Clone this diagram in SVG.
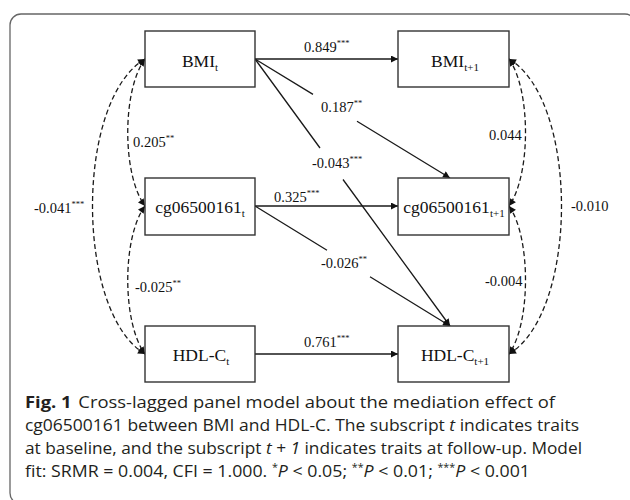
<svg xmlns="http://www.w3.org/2000/svg" width="630" height="500" viewBox="0 0 630 500">
<style>
.box{fill:#fff;stroke:#333;stroke-width:1.4}
.nt{font-family:"Liberation Serif",serif;font-size:17.5px;fill:#111;text-anchor:middle}
.sub{font-size:11px}
.lb{font-family:"Liberation Serif",serif;font-size:14.5px;fill:#111}
.sup{font-size:8.5px}
.ar{fill:none;stroke:#1a1a1a;stroke-width:1.3;marker-end:url(#ah)}
.da{fill:none;stroke:#1a1a1a;stroke-width:1.3;stroke-dasharray:5 3;marker-start:url(#ah2);marker-end:url(#ah2)}
.cap{font-family:"Open Sans","Noto Sans",sans-serif;font-size:16.5px;fill:#231f20}
</style>
<defs>
<marker id="ah" viewBox="0 0 10 10" refX="10" refY="5" markerWidth="8" markerHeight="7" markerUnits="userSpaceOnUse" orient="auto"><path d="M0,0 L10,5 L0,10 z" fill="#111"/></marker>
<marker id="ah2" viewBox="0 0 10 10" refX="10" refY="5" markerWidth="8" markerHeight="7" markerUnits="userSpaceOnUse" orient="auto-start-reverse"><path d="M0,0 L10,5 L0,10 z" fill="#111"/></marker>
</defs>
<rect x="10" y="14" width="626" height="490" rx="11" fill="none" stroke="#666" stroke-width="1.3"/>
<g id="connectors">
<path class="ar" d="M255,59 L398,59"/>
<path class="ar" d="M255,206 L398,206"/>
<path class="ar" d="M255,354 L398,354"/>
<path class="ar" d="M255,59 L313,94.4 M357,121.2 L450,178"/>
<path class="ar" d="M255,59 L320,148 M343,179.5 L450,326"/>
<path class="ar" d="M255,206 L327,250.3 M370,276.8 L450,326"/>
<path class="da" d="M145,59 C122,90 122,175 145,206"/>
<path class="da" d="M145,206 C122,237 122,323 145,354"/>
<path class="da" d="M145,59 C75,100 75,312 145,354"/>
<path class="da" d="M509,59 C531,90 531,175 509,206"/>
<path class="da" d="M509,206 C531,237 531,323 509,354"/>
<path class="da" d="M509,59 C579,100 579,312 509,354"/>
<text class="lb" x="304" y="52">0.849<tspan class="sup" dy="-6">***</tspan></text>
<text class="lb" x="274" y="202">0.325<tspan class="sup" dy="-6">***</tspan></text>
<text class="lb" x="304" y="347">0.761<tspan class="sup" dy="-6">***</tspan></text>
<text class="lb" x="321" y="112">0.187<tspan class="sup" dy="-6">**</tspan></text>
<text class="lb" x="312" y="168">-0.043<tspan class="sup" dy="-6">***</tspan></text>
<text class="lb" x="321" y="268">-0.026<tspan class="sup" dy="-6">**</tspan></text>
<text class="lb" x="133" y="147">0.205<tspan class="sup" dy="-6">**</tspan></text>
<text class="lb" x="135" y="292">-0.025<tspan class="sup" dy="-6">**</tspan></text>
<text class="lb" x="34" y="213">-0.041<tspan class="sup" dy="-6">***</tspan></text>
<text class="lb" x="489" y="140">0.044</text>
<text class="lb" x="485" y="286">-0.004</text>
<text class="lb" x="571" y="211">-0.010</text>
</g>
<g id="bmi_t"><rect class="box" x="145" y="31" width="110" height="56"/><text class="nt" x="200" y="67">BMI<tspan class="sub" dy="4">t</tspan></text></g>
<g id="cg_t"><rect class="box" x="145" y="178" width="110" height="57"/><text class="nt" x="200" y="213">cg06500161<tspan class="sub" dy="4">t</tspan></text></g>
<g id="hdl_t"><rect class="box" x="145" y="326" width="110" height="56"/><text class="nt" x="201" y="361">HDL-C<tspan class="sub" dy="4">t</tspan></text></g>
<g id="bmi_t1"><rect class="box" x="398" y="31" width="111" height="56"/><text class="nt" x="455" y="67">BMI<tspan class="sub" dy="4">t+1</tspan></text></g>
<g id="cg_t1"><rect class="box" x="398" y="178" width="111" height="57"/><text class="nt" x="454" y="213">cg06500161<tspan class="sub" dy="4">t+1</tspan></text></g>
<g id="hdl_t1"><rect class="box" x="398" y="326" width="111" height="56"/><text class="nt" x="455" y="361">HDL-C<tspan class="sub" dy="4">t+1</tspan></text></g>
<g id="caption">
<text class="cap" x="25" y="408" textLength="530" lengthAdjust="spacingAndGlyphs"><tspan font-weight="bold">Fig. 1</tspan><tspan dx="6">Cross-lagged panel model about the mediation effect of</tspan></text>
<text class="cap" x="25" y="431" textLength="554" lengthAdjust="spacingAndGlyphs">cg06500161 between BMI and HDL-C. The subscript <tspan font-style="italic">t</tspan> indicates traits</text>
<text class="cap" x="25" y="454" textLength="557" lengthAdjust="spacingAndGlyphs">at baseline, and the subscript <tspan font-style="italic">t</tspan> + <tspan font-style="italic">1</tspan> indicates traits at follow-up. Model</text>
<text class="cap" x="25" y="477" textLength="505" lengthAdjust="spacingAndGlyphs">fit: SRMR = 0.004, CFI = 1.000. <tspan font-size="10" dy="-6">*</tspan><tspan font-style="italic" dy="6">P</tspan> &lt; 0.05; <tspan font-size="10" dy="-6">**</tspan><tspan font-style="italic" dy="6">P</tspan> &lt; 0.01; <tspan font-size="10" dy="-6">***</tspan><tspan font-style="italic" dy="6">P</tspan> &lt; 0.001</text>
</g>
</svg>
